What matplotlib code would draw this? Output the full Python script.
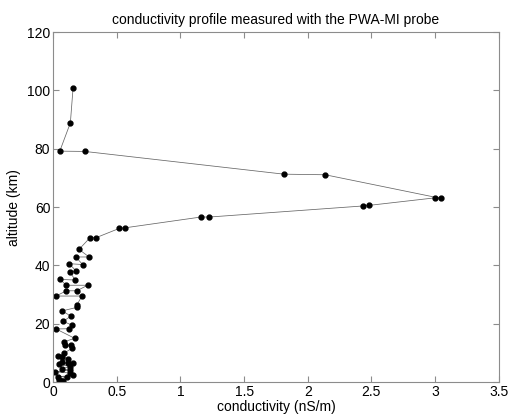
import matplotlib
matplotlib.use("Agg")
import matplotlib.pyplot as plt

# conductivity (nS/m) and altitude (km)
conductivity = [0.076, 0.060, 0.047, 0.107, 0.037, 0.159, 0.133, 0.018, 0.133, 0.068,
                0.133, 0.045, 0.157, 0.118, 0.071, 0.115, 0.073, 0.042, 0.086, 0.151,
                0.139, 0.094, 0.086, 0.170, 0.024, 0.128, 0.152, 0.078, 0.141, 0.071,
                0.186, 0.186, 0.228, 0.024, 0.104, 0.186, 0.272, 0.104, 0.055, 0.173,
                0.133, 0.181, 0.126, 0.233, 0.178, 0.283, 0.204, 0.290, 0.337, 0.520,
                0.565, 1.161, 1.227, 2.435, 2.482, 3.003, 3.045, 2.137, 1.813, 0.249,
                0.053, 0.136, 0.157]
altitude = [0.2, 0.3, 0.7, 1.8, 1.8, 2.3, 3.1, 3.5, 4.1, 4.6,
            5.3, 6.2, 6.4, 6.6, 7.0, 8.0, 8.7, 9.0, 9.9, 11.6,
            12.6, 12.7, 13.8, 15.0, 18.2, 18.3, 19.5, 20.8, 22.6, 24.4,
            25.6, 26.4, 29.5, 29.5, 31.3, 31.3, 33.2, 33.2, 35.2, 35.0,
            37.8, 38.1, 40.6, 40.3, 42.9, 42.9, 45.5, 49.5, 49.5, 52.7,
            52.9, 56.6, 56.6, 60.4, 60.6, 63.2, 63.0, 71.1, 71.3, 79.1,
            79.2, 88.9, 100.7]

plt.rcParams['font.family'] = ['Liberation Sans', 'DejaVu Sans']
plt.rcParams['font.size'] = 10

fig = plt.figure(figsize=(5.1, 4.18), dpi=100)
ax = fig.add_axes([0.104, 0.086, 0.874, 0.837])

ax.plot(conductivity, altitude, color='#666666', linewidth=0.55, zorder=1)
ax.plot(conductivity, altitude, linestyle='none', marker='o', markersize=3.5,
        markerfacecolor='black', markeredgecolor='black', zorder=2)

ax.set_xlim(0, 3.5)
ax.set_ylim(0, 120)
ax.set_xticks([0, 0.5, 1, 1.5, 2, 2.5, 3, 3.5])
ax.set_xticklabels(['0', '0.5', '1', '1.5', '2', '2.5', '3', '3.5'])
ax.set_yticks(range(0, 121, 20))

for s in ax.spines.values():
    s.set_color('#8c8c8c')
    s.set_linewidth(0.8)
ax.tick_params(direction='in', length=4, width=0.8, color='#8c8c8c',
               top=True, right=True, labelsize=10, pad=2)

ax.set_xlabel("conductivity (nS/m)", fontsize=10, labelpad=1)
ax.set_ylabel("altitude (km)", fontsize=10, labelpad=4)
ax.set_title("conductivity profile measured with the PWA-MI probe", fontsize=10, pad=6)

fig.savefig("out.png", dpi=100)
